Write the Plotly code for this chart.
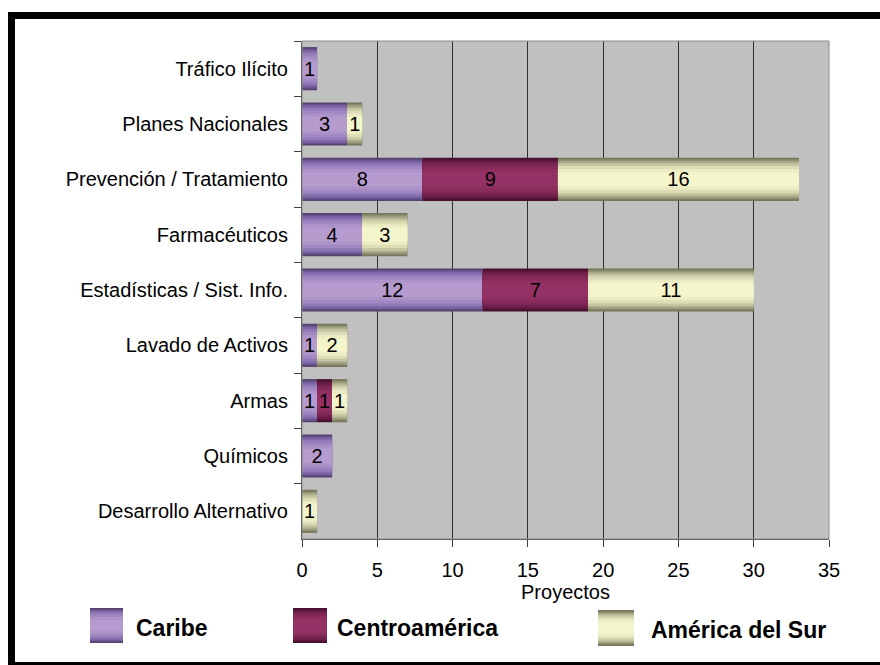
import numpy as np
import plotly.graph_objects as go

categories = ["Tráfico Ilícito", "Planes Nacionales", "Prevención / Tratamiento",
              "Farmacéuticos", "Estadísticas / Sist. Info.", "Lavado de Activos",
              "Armas", "Químicos", "Desarrollo Alternativo"]
caribe = [1, 3, 8, 4, 12, 1, 1, 2, 0]
centroamerica = [0, 0, 9, 0, 7, 0, 1, 0, 0]
america_sur = [0, 1, 16, 3, 11, 2, 1, 0, 1]
series_names = ["Caribe", "Centroamérica", "América del Sur"]
x_ticks = [0, 5, 10, 15, 20, 25, 30, 35]

W, H = 880, 665
L, R, T = 302, 51, 41
PW, PH = 527, 498
B = H - T - PH
FONT = "Liberation Sans, Arial, sans-serif"

# gradient layers (edge -> centre)
grad = {
    "Caribe": ["#56426f", "#6a5590", "#7f68a8", "#917ab8", "#a188c2", "#ad93c9", "#b69bce"],
    "Centroamérica": ["#46102e", "#5a1639", "#6c1d47", "#7a2452", "#852a5a", "#8e2f60", "#953265"],
    "América del Sur": ["#77775c", "#8f8f72", "#abab8c", "#c6c6a3", "#dcdcb6", "#ececc4", "#f5f5cc"],
}
fracs = [1.0, 0.92, 0.84, 0.74, 0.62, 0.48, 0.32]
FULL = 0.78

vals = [np.array(caribe), np.array(centroamerica), np.array(america_sur)]
bases = [np.zeros(len(categories)), vals[0].astype(float), (vals[0] + vals[1]).astype(float)]

fig = go.Figure()
for name, v, b in zip(series_names, vals, bases):
    for f, c in zip(fracs, grad[name]):
        fig.add_trace(go.Bar(
            y=categories, x=v, base=b, orientation="h", width=FULL * f,
            marker=dict(color=c, line=dict(width=0)), showlegend=False,
            hoverinfo="skip"))
    fig.add_trace(go.Bar(
        y=categories, x=v, base=b, orientation="h", width=FULL,
        marker=dict(color="rgba(0,0,0,0)", line=dict(width=0)), showlegend=False,
        text=[str(n) if n else "" for n in v], textposition="inside",
        insidetextanchor="middle", textangle=0, constraintext="none",
        textfont=dict(size=20, color="black", family=FONT), name=name))


def px(xp):
    return (xp - L) / PW


def py(yp):
    return (T + PH - yp) / PH


shapes = []
# outer frame
shapes.append(dict(type="rect", xref="paper", yref="paper",
                   x0=px(11.5), x1=px(905), y0=py(15.5), y1=py(665.5),
                   line=dict(color="black", width=7), fillcolor="rgba(0,0,0,0)"))
# plot border (top/right)
shapes.append(dict(type="rect", xref="paper", yref="paper", x0=0, x1=1, y0=0, y1=1,
                   line=dict(color="#8c8c8c", width=1), fillcolor="rgba(0,0,0,0)"))

legend_boxes = [(90, 123, 608, 643), (293, 327, 608, 643), (598, 634, 610, 646)]
legend_text_x = [134, 335, 649]
annotations = []
for name, (x0, x1, y0, y1), tx in zip(series_names, legend_boxes, legend_text_x):
    cy = (y0 + y1) / 2
    hh = (y1 - y0) / 2
    for f, c in zip(fracs, grad[name]):
        shapes.append(dict(type="rect", xref="paper", yref="paper",
                           x0=px(x0), x1=px(x1), y0=py(cy + hh * f), y1=py(cy - hh * f),
                           line=dict(width=0), fillcolor=c))
    annotations.append(dict(text="<b>%s</b>" % name, xref="paper", yref="paper",
                            x=px(tx), y=py(cy + 2), xanchor="left", yanchor="middle",
                            showarrow=False,
                            font=dict(size=23, color="black", family=FONT)))

fig.update_layout(
    width=W, height=H, barmode="overlay",
    margin=dict(l=L, r=R, t=T, b=B, pad=0),
    paper_bgcolor="white", plot_bgcolor="#c0c0c0",
    font=dict(family=FONT, size=20, color="black"),
    showlegend=False, shapes=shapes, annotations=annotations,
    xaxis=dict(range=[0, 35], tickvals=x_ticks, ticks="outside", ticklen=7,
               tickcolor="#404040", showgrid=True, gridcolor="#303030", gridwidth=1,
               showline=True, linecolor="#404040", linewidth=1, zeroline=False,
               tickfont=dict(size=20), ticklabelstandoff=6,
               title=dict(text="Proyectos", font=dict(size=20), standoff=2)),
    yaxis=dict(type="category", categoryorder="array", categoryarray=categories,
               autorange="reversed", tickson="boundaries", ticks="outside",
               ticklen=7, tickcolor="#404040", showline=True, linecolor="#404040",
               linewidth=1, showgrid=False, tickfont=dict(size=20),
               ticklabelstandoff=9),
)

fig.write_html("out.html", config={"displayModeBar": False},
               post_script="document.body.style.margin='0px';"
                           "document.body.style.overflow='hidden';")
